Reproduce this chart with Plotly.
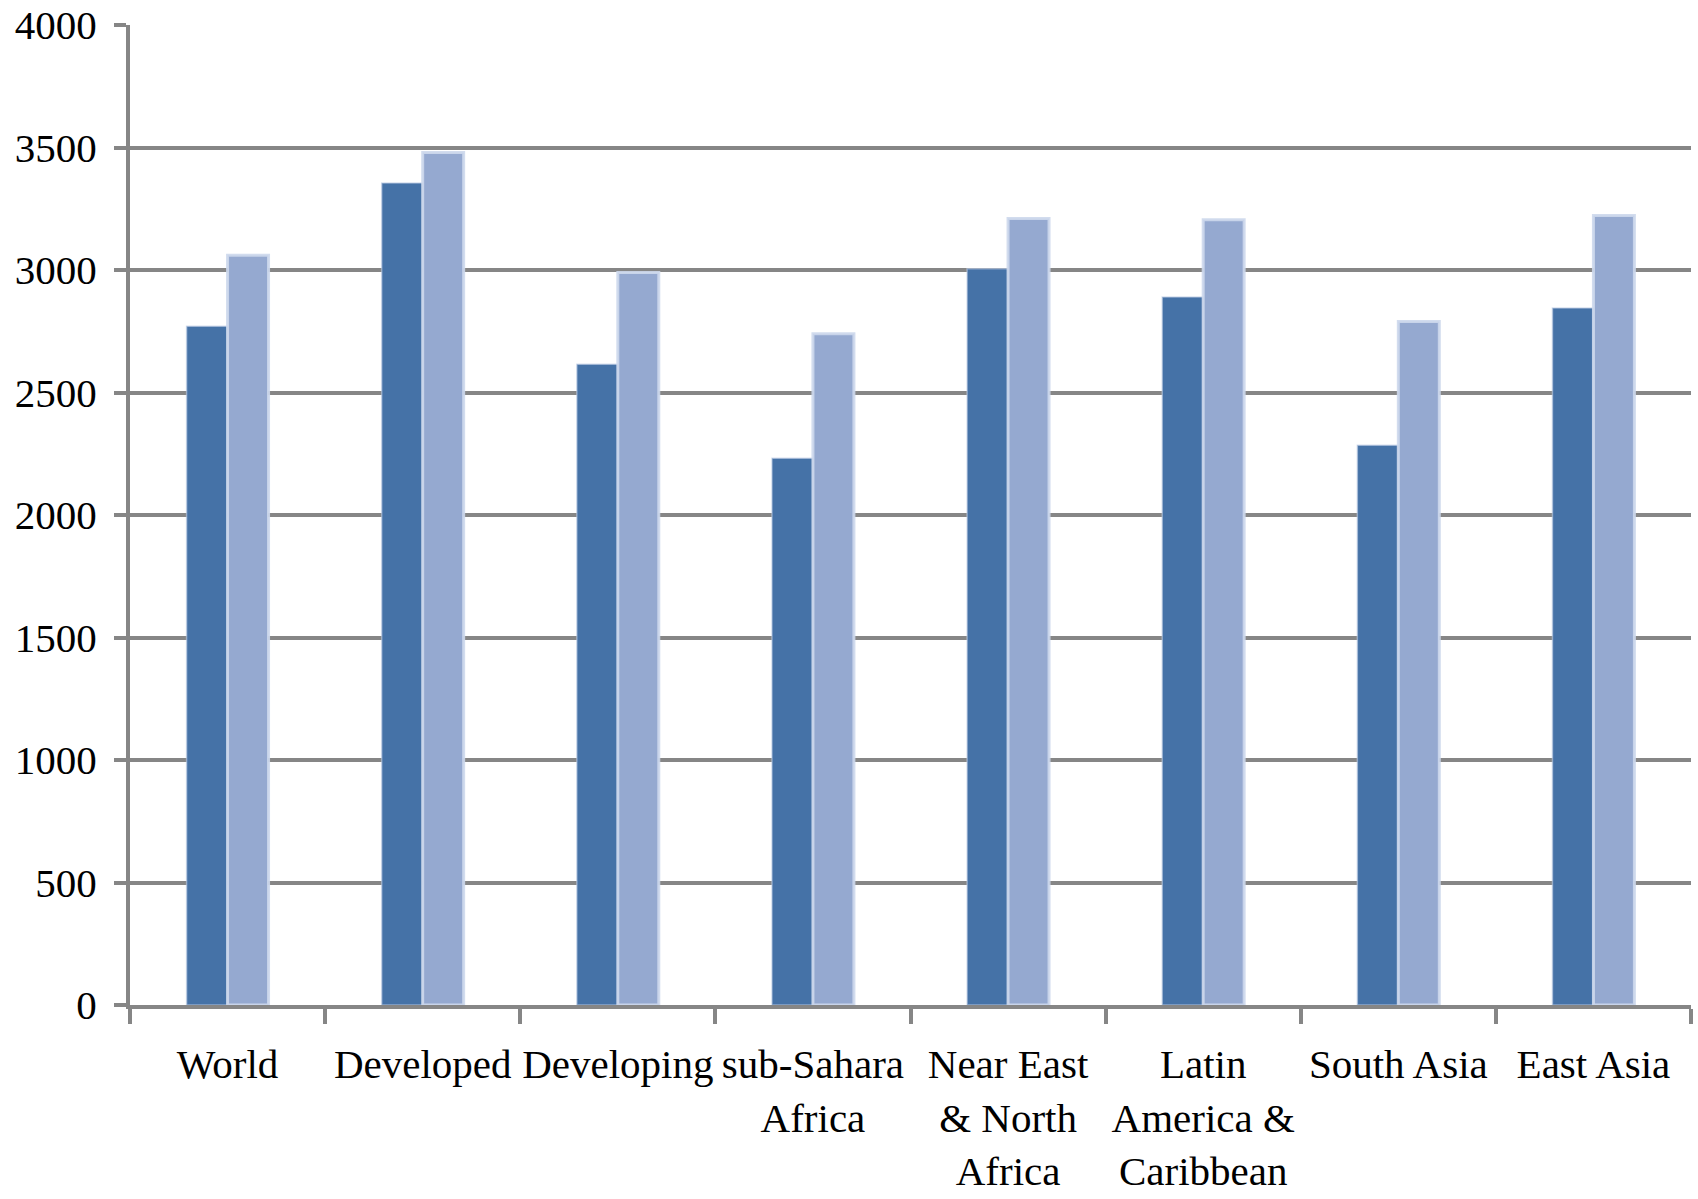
import plotly.graph_objects as go

# Daily food energy supply (kcal/person/day) by region, two periods
regions = [
    "World",
    "Developed",
    "Developing",
    "sub-Sahara<br>Africa",
    "Near East<br>& North<br>Africa",
    "Latin<br>America &<br>Caribbean",
    "South Asia",
    "East Asia",
]
period_1 = [2770, 3355, 2615, 2232, 3005, 2890, 2285, 2845]
period_2 = [3060, 3480, 2990, 2740, 3210, 3205, 2790, 3222]

y_ticks = [0, 500, 1000, 1500, 2000, 2500, 3000, 3500, 4000]

GRID = "#868686"
FONT = "Liberation Serif"

fig = go.Figure()
fig.add_trace(go.Bar(
    x=regions, y=period_1, name="Period 1",
    marker=dict(color="#4572A7", line=dict(color="rgba(190,205,228,0.6)", width=1.5)),
))
fig.add_trace(go.Bar(
    x=regions, y=period_2, name="Period 2",
    marker=dict(color="#95A9D0", line=dict(color="rgba(205,216,236,0.9)", width=3)),
))

fig.update_layout(
    width=1698, height=1199,
    margin=dict(l=130, r=7, t=25, b=194),
    paper_bgcolor="white", plot_bgcolor="white",
    barmode="group", bargap=0.58, bargroupgap=0.0,
    showlegend=False,
    font=dict(family=FONT, size=40, color="#000000"),
)
fig.update_xaxes(
    type="category",
    automargin=False,
    tickangle=0,
    tickson="boundaries",
    ticks="outside", ticklen=15, tickwidth=4, tickcolor=GRID,
    showline=True, linecolor=GRID, linewidth=4,
    showgrid=False,
    tickfont=dict(family=FONT, size=41, color="#000000"),
    ticklabelstandoff=20,
)
fig.update_yaxes(
    automargin=False,
    range=[0, 4000],
    tickvals=y_ticks,
    ticktext=[str(v) for v in y_ticks],
    ticks="outside", ticklen=12, tickwidth=4, tickcolor=GRID,
    showline=True, linecolor=GRID, linewidth=4,
    showgrid=True, gridcolor=GRID, gridwidth=4,
    zeroline=False,
    tickfont=dict(family=FONT, size=41, color="#000000"),
    ticklabelstandoff=9,
)

fig.write_html("out.html")
